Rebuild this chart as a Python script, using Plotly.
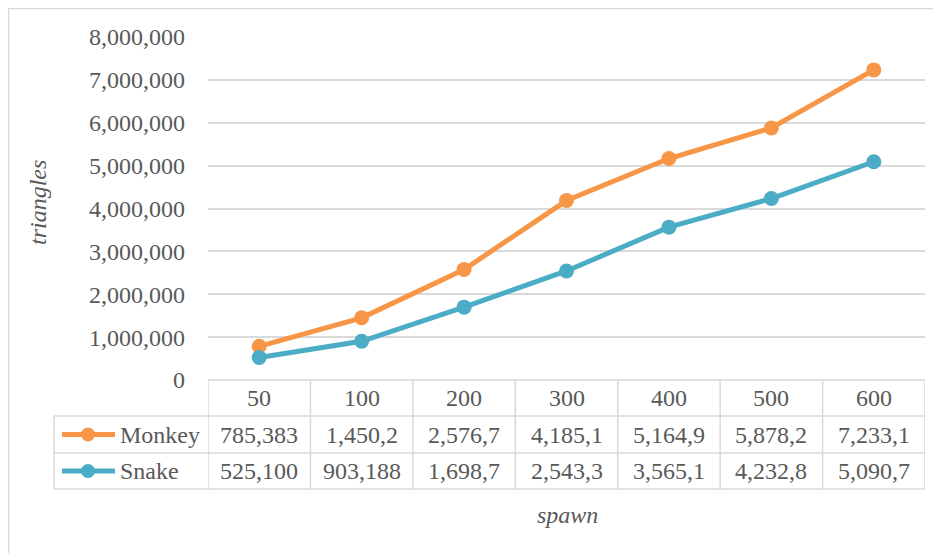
import plotly.graph_objects as go

categories = ["50", "100", "200", "300", "400", "500", "600"]
monkey = [785383, 1450200, 2576700, 4185100, 5164900, 5878200, 7233100]
snake = [525100, 903188, 1698700, 2543300, 3565100, 4232800, 5090700]
series_names = ["Monkey", "Snake"]
y_tickvals = [0, 1000000, 2000000, 3000000, 4000000, 5000000, 6000000, 7000000, 8000000]

ORANGE = "#F79646"
TEAL = "#4BACC6"
GRID = "#D9D9D9"
TXT = "#595959"
FONT = "Liberation Serif"
FS = 24

OFF = 8  # page body margin
W, H = 941 - OFF, 553 - OFF
L, R, T, B = 208 - OFF, 16, 37 - OFF, 173
PW, PH = W - L - R, H - T - B


def px(x):
    return (x - OFF - L) / PW


def py(y):
    return (H - B - (y - OFF)) / PH


def cell_text(v):
    s = f"{v:,}"
    return s[:7]


def font():
    return dict(family=FONT, size=FS, color=TXT)


fig = go.Figure()
for name, vals, col in [(series_names[0], monkey, ORANGE), (series_names[1], snake, TEAL)]:
    fig.add_trace(go.Scatter(
        x=categories, y=vals, name=name, mode="lines+markers",
        line=dict(color=col, width=5),
        marker=dict(color=col, size=15),
        showlegend=False,
    ))

shapes = []
annotations = []
line_style = dict(color=GRID, width=1.5)

# outer chart border
shapes.append(dict(type="rect", xref="paper", yref="paper",
                   x0=px(8.5), x1=px(960), y0=py(570), y1=py(8.5),
                   line=dict(color=GRID, width=1.5), layer="below"))

row_y = [380, 416, 453, 489]
n = len(categories)
shapes.append(dict(type="line", xref="x", yref="paper", x0=-0.5, x1=n - 0.5,
                   y0=py(row_y[0]), y1=py(row_y[0]), line=line_style))
for ry in row_y[1:]:
    shapes.append(dict(type="line", xref="paper", yref="paper", x0=px(54), x1=1,
                       y0=py(ry), y1=py(ry), line=line_style))
for i in range(n + 1):
    shapes.append(dict(type="line", xref="x", yref="paper", x0=i - 0.5, x1=i - 0.5,
                       y0=py(row_y[0]), y1=py(row_y[3]), line=line_style))
shapes.append(dict(type="line", xref="paper", yref="paper", x0=px(54), x1=px(54),
                   y0=py(row_y[1]), y1=py(row_y[3]), line=line_style))

for i, c in enumerate(categories):
    annotations.append(dict(x=i, y=py((row_y[0] + row_y[1]) / 2), xref="x", yref="paper",
                            xanchor="center", yanchor="middle",
                            text=c, showarrow=False, font=font()))
for r, (name, vals, col) in enumerate([(series_names[0], monkey, ORANGE), (series_names[1], snake, TEAL)]):
    cy = (row_y[r + 1] + row_y[r + 2]) / 2
    for i, v in enumerate(vals):
        annotations.append(dict(x=i, y=py(cy), xref="x", yref="paper", text=cell_text(v),
                                xanchor="center", yanchor="middle",
                                showarrow=False, font=font()))
    shapes.append(dict(type="line", xref="paper", yref="paper", x0=px(62), x1=px(115),
                       y0=py(cy), y1=py(cy), line=dict(color=col, width=5)))
    shapes.append(dict(type="circle", xref="paper", yref="paper",
                       x0=px(88 - 7), x1=px(88 + 7), y0=py(cy + 7), y1=py(cy - 7),
                       fillcolor=col, line=dict(color=col, width=0)))
    annotations.append(dict(x=px(118), y=py(cy), xref="paper", yref="paper", text=name,
                            xanchor="left", yanchor="middle", showarrow=False, font=font()))

annotations.append(dict(x=px(38), y=py(203), xref="paper", yref="paper", text="<i>triangles</i>",
                        xanchor="center", yanchor="middle",
                        textangle=-90, showarrow=False, font=font()))
annotations.append(dict(x=px(567), y=py(515), xref="paper", yref="paper", text="<i>spawn</i>",
                        xanchor="center", yanchor="middle",
                        showarrow=False, font=font()))

fig.update_layout(
    width=W, height=H,
    margin=dict(l=L, r=R, t=T, b=B),
    paper_bgcolor="white", plot_bgcolor="white",
    shapes=shapes, annotations=annotations,
    xaxis=dict(type="category", range=[-0.5, n - 0.5], showticklabels=False,
               showgrid=False, zeroline=False, showline=False, ticks=""),
    yaxis=dict(range=[0, 8000000], tickvals=y_tickvals, tickformat=",",
               showgrid=True, gridcolor=GRID, gridwidth=1.5, zeroline=False,
               showline=False, ticks="", ticklabelstandoff=22,
               tickfont=font()),
)

fig.write_html("out.html")
